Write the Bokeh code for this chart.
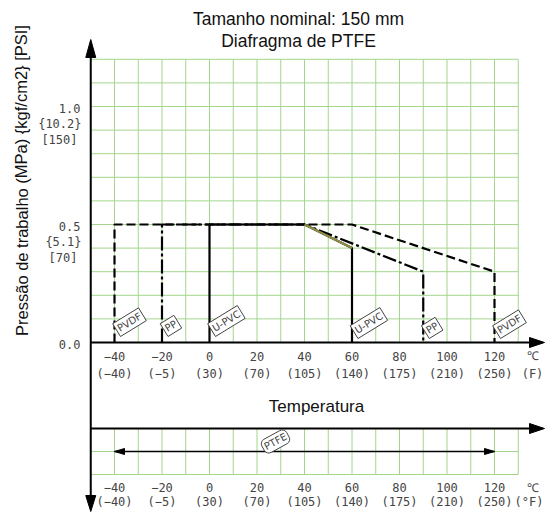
from bokeh.plotting import figure
from bokeh.models import Range1d
from bokeh.core.properties import value
from bokeh.embed import file_html
from bokeh.resources import INLINE

# ---------------- data ----------------
temps_c = [-40, -20, 0, 20, 40, 60, 80, 100, 120]
c_labels = ["−40", "−20", "0", "20", "40", "60", "80", "100", "120"]
f_labels = ["(−40)", "(−5)", "(30)", "(70)", "(105)", "(140)", "(175)", "(210)", "(250)"]
p_ticks = [0.0, 0.5, 1.0]
mpa_labels = ["0.0", "0.5", "1.0"]
kgf_labels = ["", "{5.1}", "{10.2}"]
psi_labels = ["", "[70]", "[150]"]

pvdf_t = [-40, -40, 60, 120, 120]
pvdf_p = [0.0, 0.5, 0.5, 0.3, 0.0]
pp_t = [-20, -20, 40, 90, 90]
pp_p = [0.0, 0.5, 0.5, 0.3, 0.0]
upvc_t = [0, 0, 40, 60, 60]
upvc_p = [0.0, 0.5, 0.5, 0.4, 0.0]
ptfe_range = [-40, 120]

grid_t = [-40, -30, -20, -10, 0, 10, 20, 30, 40, 50, 60, 70, 80, 90, 100, 110, 120, 130]
grid_p = [0.1, 0.2, 0.3, 0.4, 0.5, 0.6, 0.7, 0.8, 0.9, 1.0, 1.1, 1.2]
t_min, t_max = -50, 130
p_max = 1.2

# ---------------- layout helpers (image pixels -> data) ----------------
X0, SX = 209.0, 2.375   # px of 0 degC, px per degC
Y0, SY = 342.0, 236.0   # px of 0 MPa, px per MPa
OX, OY = 0, 0           # page offset of the figure
W, H = 545, 515


def tx(px):
    return (px - X0) / SX


def py(px):
    return (Y0 - px) / SY


GREEN = "#a3d68c"
GRAY = "#444444"
FONT = value("Liberation Sans")
TFONT = value("DejaVu Sans Mono")

p = figure(width=W, height=H, x_range=Range1d(tx(OX), tx(OX + W)),
           y_range=Range1d(py(OY + H), py(OY)), output_backend="svg",
           toolbar_location=None, x_axis_type=None, y_axis_type=None,
           min_border=0, outline_line_color=None)
p.grid.visible = False

# ---------------- grids ----------------
p.multi_line([[t, t] for t in grid_t], [[0, p_max]] * len(grid_t), line_color=GREEN, line_width=1)
p.multi_line([[t_min, t_max]] * len(grid_p), [[v, v] for v in grid_p], line_color=GREEN, line_width=1)

ax2, mid2, bot2 = py(428), py(451), py(474)
p.multi_line([[t, t] for t in grid_t], [[ax2, bot2]] * len(grid_t), line_color=GREEN, line_width=1)
p.multi_line([[t_min, t_max]] * 2, [[mid2, mid2], [bot2, bot2]], line_color=GREEN, line_width=1)


def head(tip_x, tip_y, direction, length, width):
    # tip in data coords, sizes in pixels
    if direction == "up":
        xs = [tip_x, tip_x - width / 2 / SX, tip_x + width / 2 / SX]
        ys = [tip_y, tip_y - length / SY, tip_y - length / SY]
    elif direction == "down":
        xs = [tip_x, tip_x - width / 2 / SX, tip_x + width / 2 / SX]
        ys = [tip_y, tip_y + length / SY, tip_y + length / SY]
    elif direction == "right":
        xs = [tip_x, tip_x - length / SX, tip_x - length / SX]
        ys = [tip_y, tip_y + width / 2 / SY, tip_y - width / 2 / SY]
    else:
        xs = [tip_x, tip_x + length / SX, tip_x + length / SX]
        ys = [tip_y, tip_y + width / 2 / SY, tip_y - width / 2 / SY]
    return xs, ys


heads_x, heads_y = [], []

# y axis (runs through both sections)
y_top, y_bot = py(39), py(511)
p.line([t_min, t_min], [y_bot + 6 / SY, y_top - 6 / SY], line_color="black", line_width=2)
for hx, hy in [head(t_min, y_top, "up", 18, 10), head(t_min, y_bot, "down", 16, 10)]:
    heads_x.append(hx); heads_y.append(hy)

# main x axis and lower x axis
x_tip = tx(544)
for yy in [0.0, ax2]:
    p.line([t_min, x_tip - 6 / SX], [yy, yy], line_color="black", line_width=2)
    hx, hy = head(x_tip, yy, "right", 15, 10)
    heads_x.append(hx); heads_y.append(hy)

# PTFE double arrow
p.line(ptfe_range, [mid2, mid2], line_color="black", line_width=1.6)
for hx, hy in [head(ptfe_range[0], mid2, "left", 10, 6), head(ptfe_range[1], mid2, "right", 10, 6)]:
    heads_x.append(hx); heads_y.append(hy)

p.patches(heads_x, heads_y, fill_color="black", line_color="black", line_width=1)

# ---------------- series ----------------
p.line(pvdf_t, pvdf_p, line_color="black", line_width=2.2, line_dash="9 4")
p.line(pp_t, pp_p, line_color="black", line_width=2.2, line_dash="14 3 3 3")
p.line(upvc_t, upvc_p, line_color="black", line_width=2.2)
p.line(upvc_t[2:4], upvc_p[2:4], line_color="#8f8f4a", line_width=2.2)

# boxed material labels
box_kw = dict(text_font=value("DejaVu Sans"), text_font_size="10px", text_color=GRAY,
              border_line_color=GRAY, border_line_width=1, background_fill_color="white",
              padding=2, angle=0.55, text_align="left", text_baseline="bottom")
names = ["PVDF", "PP", "U-PVC"]
starts = [pvdf_t[0], pp_t[0], upvc_t[0]]
ends = [pvdf_t[-1], pp_t[-1], upvc_t[-1]]
p.text(x=starts, y=[0.0] * 3, text=names, x_offset=6, y_offset=-6, **box_kw)
p.text(x=ends, y=[0.0] * 3, text=names, x_offset=6, y_offset=-4, **box_kw)
p.text(x=[tx(275)], y=[py(441)], text=["PTFE"], text_font=value("DejaVu Sans"),
       text_font_size="10px", text_color=GRAY, border_line_color=GRAY, border_line_width=1,
       background_fill_color="white", padding=2, border_radius=5, angle=0.5,
       text_align="center", text_baseline="middle")

# ---------------- tick labels ----------------
tick_kw = dict(text_font=TFONT, text_font_size="12px", text_color=GRAY,
               text_align="center", text_baseline="middle")
p.text(x=temps_c, y=[0.0] * len(temps_c), text=c_labels, y_offset=14, **tick_kw)
p.text(x=temps_c, y=[0.0] * len(temps_c), text=f_labels, y_offset=31, **tick_kw)
p.text(x=[tx(532)] * 2, y=[0.0] * 2, text=["℃", "(F)"], y_offset=[13, 31], **tick_kw)
p.text(x=temps_c, y=[bot2] * len(temps_c), text=c_labels, y_offset=13, **tick_kw)
p.text(x=temps_c, y=[bot2] * len(temps_c), text=f_labels, y_offset=27, **tick_kw)
p.text(x=[tx(532)], y=[bot2], text=["℃"], y_offset=13, **tick_kw)
p.text(x=[tx(543)], y=[bot2], text=["(°F)"], y_offset=27, text_font=TFONT,
       text_font_size="12px", text_color=GRAY, text_align="right", text_baseline="middle")

ytick_kw = dict(text_font=TFONT, text_font_size="12px", text_color=GRAY,
                text_align="right", text_baseline="middle")
p.text(x=[tx(80)] * 3, y=p_ticks, text=mpa_labels, y_offset=2, **ytick_kw)
p.text(x=[tx(81)] * 3, y=p_ticks, text=kgf_labels, y_offset=17, **ytick_kw)
p.text(x=[tx(77)] * 3, y=p_ticks, text=psi_labels, y_offset=33, **ytick_kw)

# ---------------- titles ----------------
p.text(x=[tx(298)] * 2, y=[py(18), py(40)], text=["Tamanho nominal: 150 mm", "Diafragma de PTFE"],
       text_font=FONT, text_font_size="17.5px", text_color="#111",
       text_align="center", text_baseline="middle")
p.text(x=[tx(316)], y=[py(406)], text=["Temperatura"], text_font=FONT, text_font_size="17px",
       text_color="#111", text_align="center", text_baseline="middle")
p.text(x=[tx(21)], y=[py(180)], text=["Pressão de trabalho (MPa) {kgf/cm2} [PSI]"], angle=1.5708,
       text_font=FONT, text_font_size="16.5px", text_color="#111",
       text_align="center", text_baseline="middle")

open("out.html", "w").write(file_html(p, INLINE))
